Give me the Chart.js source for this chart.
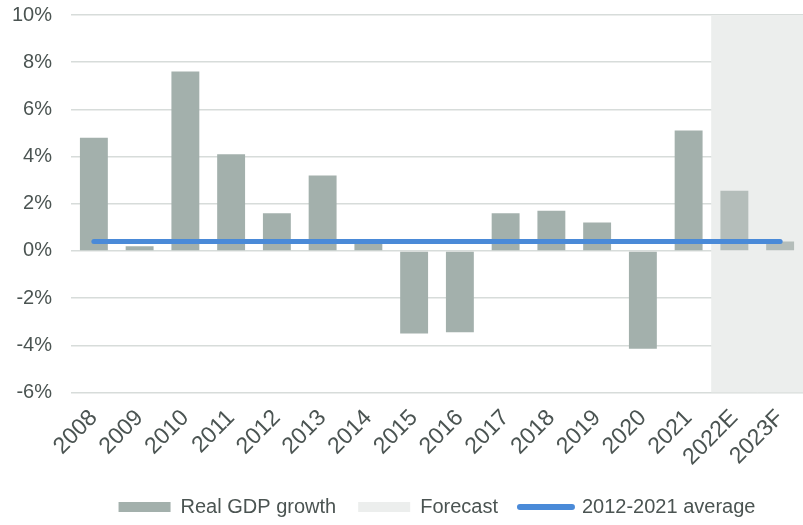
<!DOCTYPE html>
<html>
<head>
<meta charset="utf-8">
<script src="https://cdn.jsdelivr.net/npm/chart.js@4/dist/chart.umd.min.js"></script>
<style>
  html, body { margin: 0; padding: 0; background: #fff; }
  #wrap { width: 803px; height: 525px; }
</style>
</head>
<body>
<div id="wrap"><canvas id="gdpChart"></canvas></div>
<script>
const years = ["2008", "2009", "2010", "2011", "2012", "2013", "2014", "2015", "2016", "2017", "2018", "2019", "2020", "2021", "2022E", "2023F"];
const gdpGrowth = [4.8, 0.2, 7.6, 4.1, 1.6, 3.2, 0.5, -3.5, -3.45, 1.6, 1.7, 1.2, -4.15, 5.1, 2.55, 0.4];
const forecastBand = [null, null, null, null, null, null, null, null, null, null, null, null, null, null, 1, 1];
const avgLine = [0.4, 0.4, 0.4, 0.4, 0.4, 0.4, 0.4, 0.4, 0.4, 0.4, 0.4, 0.4, 0.4, 0.4, 0.4, 0.4];
const yTicks = [-6, -4, -2, 0, 2, 4, 6, 8, 10];

const textColor = "#4b5452";
const barColor = "#a3b0ac";
const barForecastColor = "#b4bdba";
const bandColor = "#eceeed";
const lineColor = "#4a8ad8";

Chart.defaults.font.family = "'Liberation Sans', Arial, sans-serif";
Chart.defaults.color = textColor;

const ctx = document.getElementById("gdpChart").getContext("2d");
new Chart(ctx, {
  type: "bar",
  data: {
    labels: years,
    datasets: [
      {
        label: "Real GDP growth",
        data: gdpGrowth,
        backgroundColor: years.map((y) => (y.endsWith("E") || y.endsWith("F") ? barForecastColor : barColor)),
        barPercentage: 0.61,
        categoryPercentage: 1,
        grouped: false,
        order: 1,
      },
      {
        label: "Forecast",
        data: forecastBand,
        yAxisID: "band",
        backgroundColor: bandColor,
        barPercentage: 1,
        categoryPercentage: 1,
        grouped: false,
        order: 2,
      },
      {
        type: "line",
        label: "2012-2021 average",
        data: avgLine,
        borderColor: lineColor,
        backgroundColor: lineColor,
        borderWidth: 5,
        borderCapStyle: "round",
        pointRadius: 0,
        order: 0,
      },
    ],
  },
  options: {
    responsive: true,
    maintainAspectRatio: false,
    animation: false,
    layout: { padding: { left: 12, right: 0, top: 0, bottom: -2 } },
    scales: {
      x: {
        grid: { display: false },
        border: { display: false },
        afterFit: (axis) => {
          // rotated labels fit in the canvas, keep the plot where it is
          axis.paddingLeft = 0;
          axis.paddingRight = 0;
        },
        ticks: {
          minRotation: 45,
          maxRotation: 45,
          padding: 4,
          font: { size: 23 },
          color: textColor,
        },
      },
      y: {
        min: -6,
        max: 10,
        afterBuildTicks: (axis) => {
          axis.ticks = yTicks.map((v) => ({ value: v }));
        },
        afterFit: (axis) => {
          axis.width = 59;
          axis.paddingTop = 15;
          axis.paddingBottom = 12;
        },
        grid: { color: "#d7dcda", lineWidth: 1.5, drawTicks: false },
        border: { display: false },
        ticks: {
          padding: 19,
          font: { size: 20 },
          color: textColor,
          callback: (v) => v + "%",
        },
      },
      band: {
        display: false,
        min: 0,
        max: 1,
      },
    },
    plugins: {
      tooltip: { enabled: false },
      legend: {
        position: "bottom",
        fullSize: false,
        labels: {
          usePointStyle: true,
          pointStyleWidth: 52,
          boxHeight: 10,
          padding: 22,
          font: { size: 20 },
          color: textColor,
          sort: (a, b) => a.datasetIndex - b.datasetIndex,
          generateLabels: (chart) => {
            const items = Chart.defaults.plugins.legend.labels.generateLabels(chart);
            return items.map((item) => {
              if (item.datasetIndex === 2) {
                item.pointStyle = "line";
                item.strokeStyle = lineColor;
                item.lineWidth = 6;
                item.lineCap = "round";
              } else {
                item.pointStyle = "rect";
                item.lineWidth = 0;
                item.fillStyle = item.datasetIndex === 0 ? barColor : bandColor;
                item.strokeStyle = item.fillStyle;
              }
              return item;
            });
          },
        },
      },
    },
  },
});
</script>
</body>
</html>
